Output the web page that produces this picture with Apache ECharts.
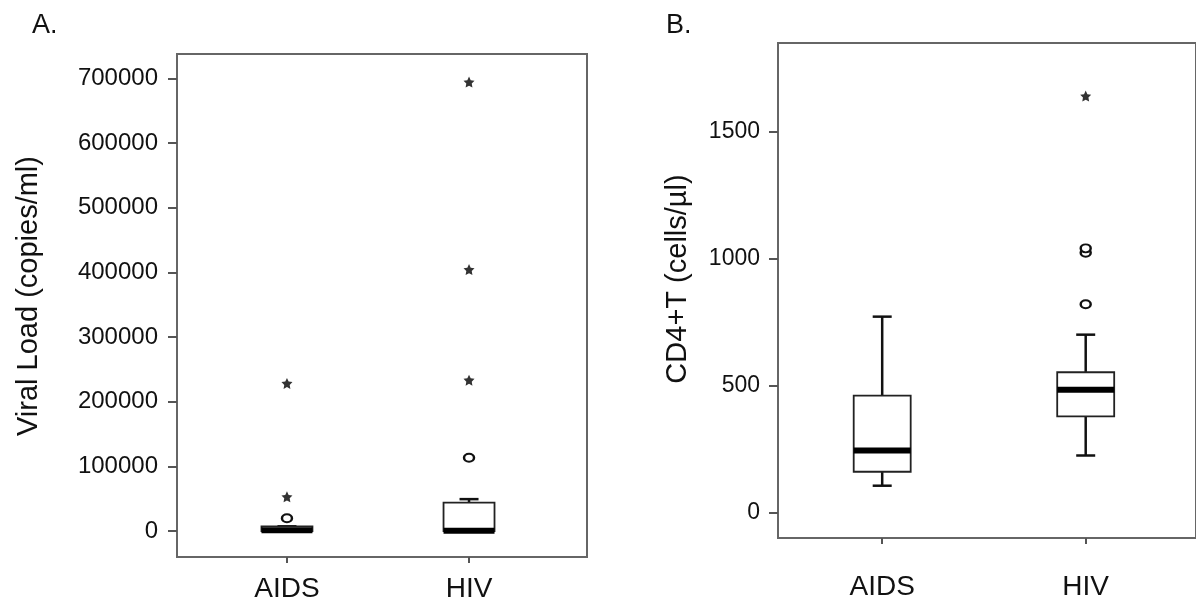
<!DOCTYPE html>
<html>
<head>
<meta charset="utf-8">
<script src="https://cdn.jsdelivr.net/npm/echarts@6/dist/echarts.min.js"></script>
<style>
  html, body { margin: 0; padding: 0; background: #fff; }
  #chart { width: 1196px; height: 604px; }
</style>
</head>
<body>
<div id="chart"></div>
<script>
// groups on the x axis
const categories = ['AIDS', 'HIV']

// panel A: viral load, [min, Q1, median, Q3, max] per group
const viralBox = [
  [0, 0, 1500, 7500, 7500],
  [0, 0, 500, 44000, 49500],
]
const viralCircles = [['AIDS', 20000], ['HIV', 113500]]
const viralStars = [['AIDS', 53000], ['AIDS', 228500], ['HIV', 233500], ['HIV', 404500], ['HIV', 694500]]
const viralTicks = [0, 100000, 200000, 300000, 400000, 500000, 600000, 700000]

// panel B: CD4+T count
const cd4Box = [
  [106, 161, 245, 461, 772],
  [225, 379, 484, 553, 701],
]
const cd4Circles = [['HIV', 821], ['HIV', 1024], ['HIV', 1041]]
const cd4Stars = [['HIV', 1641]]
const cd4Ticks = [0, 500, 1000, 1500]

const FONT = 'Liberation Sans, Arial, Helvetica, sans-serif'
const STAR = 'path://M0,-10L2.9,-4L9.5,-3.1L4.7,1.5L5.9,8.1L0,5L-5.9,8.1L-4.7,1.5L-9.5,-3.1L-2.9,-4Z'
const BOX_W = 0.28
const CAP_W = 19

const catPos = (name) => categories.indexOf(name) + 1
const boxRows = (rows) => rows.map((r, i) => [i + 1].concat(r))
const pts = (rows) => rows.map((r) => [catPos(r[0]), r[1]])

const renderBox = (params, api) => {
  const x = api.value(0)
  const lo = api.coord([x, api.value(1)])
  const q1 = api.coord([x, api.value(2)])
  const med = api.coord([x, api.value(3)])
  const q3 = api.coord([x, api.value(4)])
  const hi = api.coord([x, api.value(5)])
  const half = api.size([BOX_W, 0])[0] / 2
  const cx = lo[0]
  const wStyle = { stroke: '#111', lineWidth: 2.5 }
  return {
    type: 'group',
    children: [
      { type: 'line', shape: { x1: cx, y1: lo[1], x2: cx, y2: q1[1] }, style: wStyle },
      { type: 'line', shape: { x1: cx, y1: q3[1], x2: cx, y2: hi[1] }, style: wStyle },
      { type: 'line', shape: { x1: cx - CAP_W / 2, y1: lo[1], x2: cx + CAP_W / 2, y2: lo[1] }, style: wStyle },
      { type: 'line', shape: { x1: cx - CAP_W / 2, y1: hi[1], x2: cx + CAP_W / 2, y2: hi[1] }, style: wStyle },
      {
        type: 'rect',
        shape: { x: cx - half, y: q3[1], width: half * 2, height: q1[1] - q3[1] },
        style: { fill: '#fff', stroke: '#222', lineWidth: 1.8 },
      },
      { type: 'line', shape: { x1: cx - half, y1: med[1], x2: cx + half, y2: med[1] }, style: { stroke: '#000', lineWidth: 6 } },
    ],
  }
}

const xAxisOf = (grid, min, max, margin) => ({
  type: 'value',
  gridIndex: grid,
  min: min,
  max: max,
  axisLine: { show: false, onZero: false },
  splitLine: { show: false },
  axisTick: { customValues: [1, 2], length: 6, lineStyle: { color: '#555', width: 2 } },
  axisLabel: {
    customValues: [1, 2],
    formatter: (v) => categories[Math.round(v) - 1],
    fontFamily: FONT,
    fontSize: 28,
    color: '#111',
    margin: margin,
  },
})

const yAxisOf = (grid, min, max, ticks, size, margin) => ({
  type: 'value',
  gridIndex: grid,
  min: min,
  max: max,
  axisLine: { show: false, onZero: false },
  splitLine: { show: false },
  axisTick: { customValues: ticks, length: 9, lineStyle: { color: '#555', width: 2 } },
  axisLabel: {
    customValues: ticks,
    formatter: (v) => String(v),
    fontFamily: FONT,
    fontSize: size,
    color: '#111',
    margin: margin,
  },
})

const scatterOf = (idx, data, symbol, size, filled) => ({
  type: 'scatter',
  xAxisIndex: idx,
  yAxisIndex: idx,
  symbol: symbol,
  symbolSize: size,
  data: data,
  z: 5,
  itemStyle: filled
    ? { color: '#000' }
    : { color: '#fff', borderColor: '#111', borderWidth: 2.2, opacity: 1 },
})

const chart = echarts.init(document.getElementById('chart'), null, { renderer: 'canvas' })

chart.setOption({
  backgroundColor: '#fff',
  animation: false,
  grid: [
    { left: 177, top: 54, width: 410, height: 503, show: true, borderColor: '#666', borderWidth: 2 },
    { left: 778, top: 43, width: 425, height: 495, show: true, borderColor: '#666', borderWidth: 2 },
  ],
  xAxis: [xAxisOf(0, 0.396, 2.648, 18), xAxisOf(1, 0.488, 2.542, 35)],
  yAxis: [yAxisOf(0, -40000, 738000, viralTicks, 24, 19), yAxisOf(1, -100, 1850, cd4Ticks, 23, 18)],
  graphic: [
    { type: 'text', left: 32, top: 12, style: { text: 'A.', font: '27px ' + FONT, fill: '#111' } },
    { type: 'text', left: 666, top: 12, style: { text: 'B.', font: '27px ' + FONT, fill: '#111' } },
    {
      type: 'text', x: 29, y: 296, rotation: Math.PI / 2,
      style: { text: 'Viral Load (copies/ml)', font: '29px ' + FONT, fill: '#111', align: 'center', verticalAlign: 'middle' },
    },
    {
      type: 'text', x: 678, y: 279, rotation: Math.PI / 2,
      style: { text: 'CD4+T (cells/µl)', font: '29px ' + FONT, fill: '#111', align: 'center', verticalAlign: 'middle' },
    },
  ],
  series: [
    {
      type: 'custom',
      xAxisIndex: 0,
      yAxisIndex: 0,
      renderItem: renderBox,
      encode: { x: 0, y: [1, 2, 3, 4, 5] },
      data: boxRows(viralBox),
    },
    scatterOf(0, pts(viralCircles), 'circle', [10, 8], false),
    scatterOf(0, pts(viralStars), STAR, 11, true),
    {
      type: 'custom',
      xAxisIndex: 1,
      yAxisIndex: 1,
      renderItem: renderBox,
      encode: { x: 0, y: [1, 2, 3, 4, 5] },
      data: boxRows(cd4Box),
    },
    scatterOf(1, pts(cd4Circles), 'circle', [10, 8], false),
    scatterOf(1, pts(cd4Stars), STAR, 11, true),
  ],
})

window.addEventListener('resize', function () {
  chart.resize()
})
</script>
</body>
</html>
